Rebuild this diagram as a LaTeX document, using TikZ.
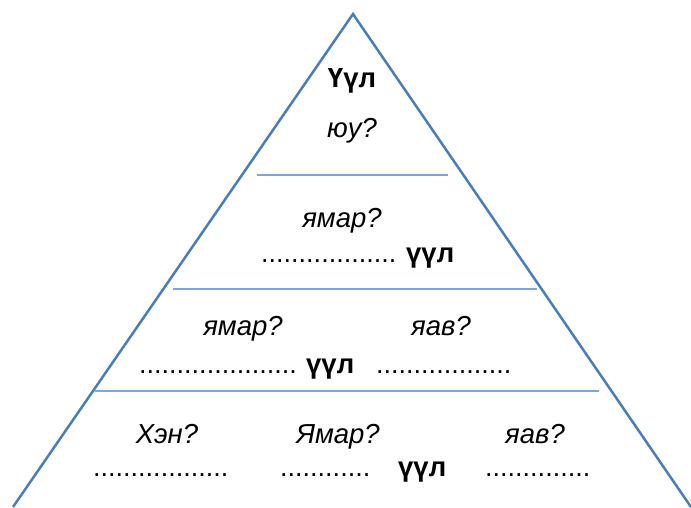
\documentclass[tikz,border=0pt]{standalone}
\usepackage{fontspec}
\setmainfont{Liberation Sans}
\definecolor{edgeblue}{HTML}{4A7EBB}
\definecolor{lineblue}{HTML}{7EA6DA}
\begin{document}
\begin{tikzpicture}[x=1pt,y=-1pt,
  q/.style={inner sep=0pt,anchor=base,font=\fontsize{27.5}{27.5}\selectfont\itshape},
  b/.style={inner sep=0pt,anchor=base west,font=\fontsize{27.5}{27.5}\selectfont\bfseries},
  d/.style={inner sep=0pt,anchor=base west,font=\fontsize{27}{27}\selectfont},
  tri/.style={draw=edgeblue,line width=2.5pt,line join=miter},
  sep/.style={draw=lineblue,line width=1.4pt}]
\useasboundingbox (0,0) rectangle (691,507);
\coordinate (apex) at (353,14);
\coordinate (bl) at (13,507);
\coordinate (br) at (691,507);
\begin{scope}
\clip (0,0) rectangle (691,507);
\draw[tri] (bl) -- (apex) -- (br);
\end{scope}
\coordinate (l1a) at (257,175); \coordinate (l1b) at (448,175);
\coordinate (l2a) at (173,289); \coordinate (l2b) at (537,289);
\coordinate (l3a) at (95,391);  \coordinate (l3b) at (599,391);
\draw[sep] (l1a) -- (l1b);
\draw[sep] (l2a) -- (l2b);
\draw[sep] (l3a) -- (l3b);
% level 1
\node[b,anchor=base] (t1) at (352,87) {Үүл};
\node[q] (t1q) at (352,137) {юу?};
% level 2
\node[q] (t2q) at (342,227) {ямар?};
\node[d] (t2d) at (261,262) {..................};
\node[b] (t2b) at (406,262) {үүл};
% level 3
\node[q] (t3q1) at (243,335) {ямар?};
\node[q] (t3q2) at (441,335) {яав?};
\node[d] (t3d1) at (139,373) {.....................};
\node[b] (t3b) at (306,373) {үүл};
\node[d] (t3d2) at (376,373) {..................};
% level 4
\node[q] (t4q1) at (167,443) {Хэн?};
\node[q] (t4q2) at (338,443) {Ямар?};
\node[q] (t4q3) at (535,443) {яав?};
\node[d] (t4d1) at (93,476) {..................};
\node[d] (t4d2) at (280,476) {............};
\node[b] (t4b) at (398,476) {үүл};
\node[d] (t4d3) at (485,476) {..............};
\end{tikzpicture}
\end{document}
